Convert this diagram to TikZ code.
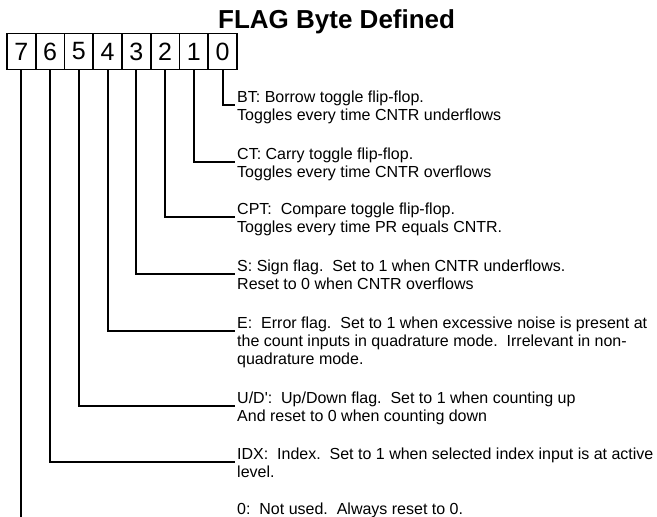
\documentclass[tikz,border=0pt]{standalone}
\usepackage{fontspec}
\setmainfont{Liberation Sans}
\frenchspacing
\newcommand\tstrut{\rule{0pt}{13pt}}
\begin{document}
\begin{tikzpicture}[x=1pt,y=-1pt,
  bitbox/.style={draw, line width=1.6pt, minimum width=28.75pt, minimum height=36pt, inner sep=0pt, font=\fontsize{25}{25}\selectfont},
  desc/.style={anchor=north west, inner sep=0pt, align=left, font=\fontsize{16}{18}\selectfont},
  wire/.style={line width=1.8pt},
  titlefont/.style={font=\fontsize{26}{26}\selectfont\bfseries}]
\useasboundingbox (0,0) rectangle (657,517);
\node[titlefont, anchor=base west, inner sep=0pt] (title) at (218,28) {FLAG Byte Defined};
\foreach \i in {0,...,7}
  \node[bitbox] (b\i) at ({21.375+28.75*(7-\i)},51.5) {\i};
\foreach \i/\yy in {0/105,1/162,2/217,3/274,4/331,5/406,6/462}{
  \coordinate (e\i) at (235,\yy);
  \draw[wire] (b\i.south) |- (e\i);
}
\coordinate (e7) at (21.375,517);
\draw[wire] (b7.south) -- (e7);
\node[desc] (t0) at (237,89.5) {\tstrut BT: Borrow toggle flip-flop.\\Toggles every time CNTR underflows};
\node[desc] (t1) at (237,146.5) {\tstrut CT: Carry toggle flip-flop.\\Toggles every time CNTR overflows};
\node[desc] (t2) at (237,201.5) {\tstrut CPT:~ Compare toggle flip-flop.\\Toggles every time PR equals CNTR.};
\node[desc] (t3) at (237,258.5) {\tstrut S: Sign flag.~ Set to 1 when CNTR underflows.\\Reset to 0 when CNTR overflows};
\node[desc] (t4) at (237,315.5) {\tstrut E:~ Error flag.~ Set to 1 when excessive noise is present at\\the count inputs in quadrature mode.~ Irrelevant in non-\\quadrature mode.};
\node[desc] (t5) at (237,390.5) {\tstrut U/D\textquotesingle:~ Up/Down flag.~ Set to 1 when counting up\\And reset to 0 when counting down};
\node[desc] (t6) at (237,446.5) {\tstrut IDX:~ Index.~ Set to 1 when selected index input is at active\\level.};
\node[desc] (t7) at (237,501) {\tstrut 0:~ Not used.~ Always reset to 0.};
\end{tikzpicture}
\end{document}
